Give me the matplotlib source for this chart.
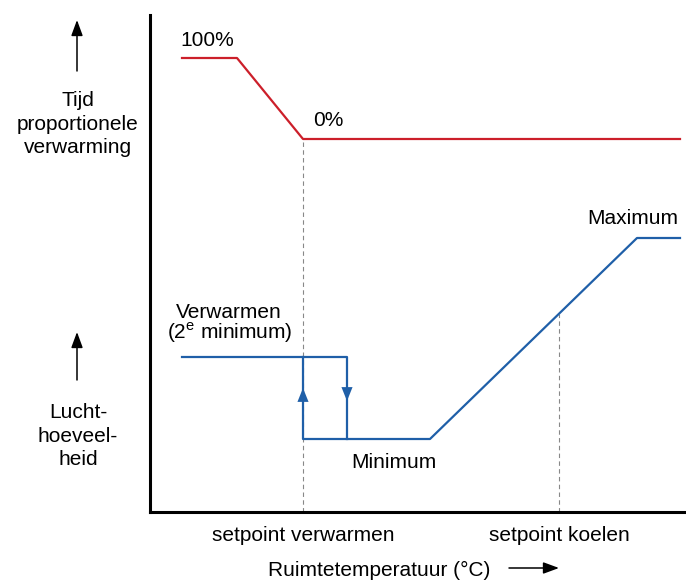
import matplotlib.pyplot as plt

plt.rcParams['font.family'] = ['Liberation Sans', 'DejaVu Sans']
plt.rcParams['mathtext.fontset'] = 'custom'
plt.rcParams['mathtext.rm'] = 'Liberation Sans'

# horizontal axis: room temperature (arbitrary units)
sp_heat = 153
sp_cool = 409
tick_labels = ['setpoint verwarmen', 'setpoint koelen']

# time proportional heating (red)
heat_x = [32, 87, 153, 530]
heat_y = [454, 454, 373, 373]

# air volume (blue)
hyst_x = [32, 197, 197]
hyst_y = [155, 155, 73]
air_x = [153, 153, 280, 487, 530]
air_y = [155, 73, 73, 274, 274]
cool_y = 198

red = '#cc1f2a'
blue = '#1f5fa8'
fs = 15

fig = plt.figure(figsize=(6.86, 5.81), dpi=100)
ax = fig.add_axes([150 / 686, 69 / 581, 536 / 686, 497 / 581])
ax.set_xlim(0, 536)
ax.set_ylim(0, 497)
for s in ['top', 'right']:
    ax.spines[s].set_visible(False)
for s in ['left', 'bottom']:
    ax.spines[s].set_linewidth(2.2)
ax.set_yticks([])
ax.set_xticks([sp_heat, sp_cool], tick_labels, fontsize=fs)
ax.tick_params(axis='x', length=0, pad=10)

ax.plot([sp_heat, sp_heat], [0, heat_y[2]], color='#888888', lw=0.8, ls=(0, (4, 3)))
ax.plot([sp_cool, sp_cool], [0, cool_y], color='#888888', lw=0.8, ls=(0, (4, 3)))

ax.plot(heat_x, heat_y, color=red, lw=1.6)
ax.plot(hyst_x, hyst_y, color=blue, lw=1.6)
ax.plot(air_x, air_y, color=blue, lw=1.6)

# direction arrows on the hysteresis loop
head = dict(arrowstyle='-|>,head_length=1.0,head_width=0.4', color=blue, lw=0,
            shrinkA=0, shrinkB=0)
ax.annotate('', xy=(sp_heat, 124), xytext=(sp_heat, 109), arrowprops=head)
ax.annotate('', xy=(197, 111), xytext=(197, 126), arrowprops=head)

ax.text(57, 472, '100%', ha='center', va='center', fontsize=fs)
ax.text(178, 392, '0%', ha='center', va='center', fontsize=fs)
ax.text(483, 294, 'Maximum', ha='center', va='center', fontsize=fs)
ax.text(79, 200, 'Verwarmen', ha='center', va='center', fontsize=fs)
ax.text(80, 179, '(2$^{\\mathrm{e}}$ minimum)', ha='center', va='center', fontsize=fs)
ax.text(244, 49, 'Minimum', ha='center', va='center', fontsize=fs)

# labels outside the axes
fig.text(78 / 686, 1 - 124 / 581, 'Tijd\nproportionele\nverwarming',
         ha='center', va='center', fontsize=fs, linespacing=1.3)
fig.text(78 / 686, 1 - 436 / 581, 'Lucht-\nhoeveel-\nheid',
         ha='center', va='center', fontsize=fs, linespacing=1.3)
fig.text(379 / 686, 1 - 570 / 581, 'Ruimtetemperatuur (°C)',
         ha='center', va='center', fontsize=fs)

arrow = dict(arrowstyle='-|>,head_length=0.95,head_width=0.35', color='black', lw=1.1,
             shrinkA=0, shrinkB=0)
ax.annotate('', xy=(77 / 686, 1 - 20 / 581), xytext=(77 / 686, 1 - 71 / 581),
            xycoords='figure fraction', textcoords='figure fraction', arrowprops=arrow,
            annotation_clip=False)
ax.annotate('', xy=(77 / 686, 1 - 332 / 581), xytext=(77 / 686, 1 - 380 / 581),
            xycoords='figure fraction', textcoords='figure fraction', arrowprops=arrow,
            annotation_clip=False)
ax.annotate('', xy=(559 / 686, 1 - 568 / 581), xytext=(509 / 686, 1 - 568 / 581),
            xycoords='figure fraction', textcoords='figure fraction', arrowprops=arrow,
            annotation_clip=False)

fig.savefig('out.png', dpi=100)
